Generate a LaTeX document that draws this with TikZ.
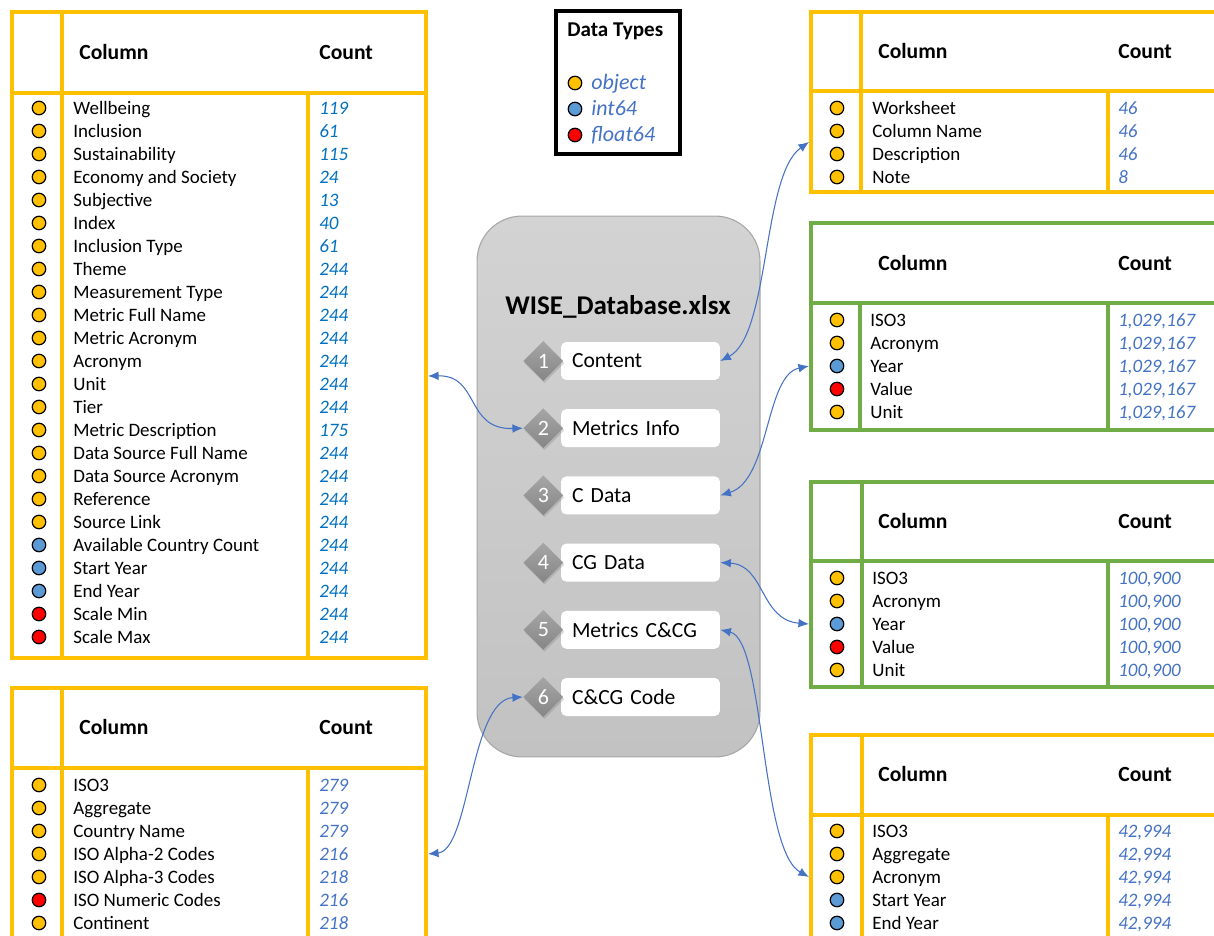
\documentclass[tikz,border=0pt]{standalone}
\usepackage{fontspec}
\setmainfont{Carlito}
\usetikzlibrary{positioning,shapes.geometric,arrows.meta,shadows}

\definecolor{tblgold}{HTML}{FFC000}
\definecolor{tblgreen}{HTML}{70AD47}
\definecolor{tobj}{HTML}{FFC000}
\definecolor{tint}{HTML}{5B9BD5}
\definecolor{tflt}{HTML}{FF0000}
\definecolor{cntblue}{HTML}{4472C4}
\definecolor{cntdeep}{HTML}{0070C0}
\definecolor{wbtop}{HTML}{D3D3D3}
\definecolor{wbbot}{HTML}{C2C2C2}
\definecolor{wbedge}{HTML}{A6A6A6}

\tikzset{
  tblline/.style   = {line width=2.2pt, line join=miter},
  colhead/.style   = {anchor=west, inner sep=0, text height=0.88em, text depth=0.12em, font=\bfseries\fontsize{12.3}{14}\selectfont},
  cellname/.style  = {anchor=west, inner sep=0, text height=0.88em, text depth=0.12em, font=\fontsize{10.8}{13}\selectfont},
  cellcount/.style = {anchor=west, inner sep=0, text height=0.88em, text depth=0.12em, font=\itshape\fontsize{10.8}{13}\selectfont, text=cntblue},
  dot/.style       = {circle, draw=black, line width=0.7pt, minimum size=0.27cm, inner sep=0},
  workbook/.style  = {draw=wbedge, line width=0.6pt, rounded corners=0.9cm, top color=wbtop, bottom color=wbbot, minimum width=5.66cm, minimum height=10.82cm},
  sheet/.style     = {fill=white, rounded corners=3pt, text width=2.74cm, inner xsep=0.22cm, minimum height=0.76cm, align=left, font=\fontsize{12.3}{14}\selectfont},
  sheetnum/.style  = {diamond, minimum width=0.8cm, minimum height=0.8cm, inner sep=0, top color=gray!70, bottom color=gray!95, text=white, font=\fontsize{12.5}{14}\selectfont, drop shadow={opacity=0.3, shadow xshift=0.6pt, shadow yshift=-1.2pt}},
  link/.style      = {<->, >={Latex[length=6pt,width=5pt]}, draw=cntblue, line width=0.6pt}
}

\begin{document}
\begin{tikzpicture}[x=0.02cm, y=-0.02cm]
\useasboundingbox (0,0) rectangle (1214,936);

% legend of data types
\node[draw, line width=2.2pt, minimum width=2.48cm, minimum height=2.86cm] (legend) at (618,82.5) {};
\node[colhead, font=\bfseries\fontsize{12}{14}\selectfont] (legend-title) at (567,30) {Data Types};
\foreach \typ/\col [count=\i from 0] in {object/tobj, int64/tint, float64/tflt} {
  \node[dot, fill=\col] (legend-dot\i) at (575,83+26*\i) {};
  \node[cellcount, font=\itshape\fontsize{12.5}{14}\selectfont] (legend-txt\i) at (591,83+26*\i) {\typ};
}

% the workbook and its sheets
\node[workbook] (wb) at (618.5,486.5) {};
\node[inner sep=0, font=\bfseries\fontsize{15.4}{18}\selectfont] (wb-title) at (618,307) {WISE\_Database.xlsx};
\foreach \lbl [count=\i] in {Content, Metrics Info, C Data, CG Data, Metrics C\&CG, C\&CG Code} {
  \node[sheet] (s\i) at (640.5,361+67.2*\i-67.2) {\lbl};
  \node[sheetnum, left=-0.06cm of s\i] (n\i) {\i};
}

% Metrics Info
\draw[tblline, tblgold] (12,12) rectangle (426,658) (12,93) -- (426,93) (62,12) -- (62,658) (308,93) -- (308,658);
\node[colhead] (mi-hcol) at (79,53) {Column};
\node[colhead] (mi-hcnt) at (319,53) {Count};
\foreach \name/\cnt/\col [count=\i from 0] in {Wellbeing/119/tobj, Inclusion/61/tobj, Sustainability/115/tobj,
    Economy and Society/24/tobj, Subjective/13/tobj, Index/40/tobj, Inclusion Type/61/tobj, Theme/244/tobj,
    Measurement Type/244/tobj, Metric Full Name/244/tobj, Metric Acronym/244/tobj, Acronym/244/tobj,
    Unit/244/tobj, Tier/244/tobj, Metric Description/175/tobj, Data Source Full Name/244/tobj,
    Data Source Acronym/244/tobj, Reference/244/tobj, Source Link/244/tobj, Available Country Count/244/tint,
    Start Year/244/tint, End Year/244/tint, Scale Min/244/tflt, Scale Max/244/tflt} {
  \node[dot, fill=\col] (mi-dot\i) at (39,108+23*\i) {};
  \node[cellname] (mi-name\i) at (73,108+23*\i) {\name};
  \node[cellcount, text=cntdeep] (mi-cnt\i) at (319,108+23*\i) {\cnt};
}
\coordinate (mi-port) at (428,376);

% C&CG Code
\draw[tblline, tblgold] (12,688) rectangle (426,960) (12,768) -- (426,768) (62,688) -- (62,960) (308,768) -- (308,960);
\node[colhead] (cc-hcol) at (79,728) {Column};
\node[colhead] (cc-hcnt) at (319,728) {Count};
\foreach \name/\cnt/\col [count=\i from 0] in {ISO3/279/tobj, Aggregate/279/tobj, Country Name/279/tobj,
    ISO Alpha-2 Codes/216/tobj, ISO Alpha-3 Codes/218/tobj, ISO Numeric Codes/216/tflt, Continent/218/tobj} {
  \node[dot, fill=\col] (cc-dot\i) at (39,785+23*\i) {};
  \node[cellname] (cc-name\i) at (73,785+23*\i) {\name};
  \node[cellcount] (cc-cnt\i) at (319,785+23*\i) {\cnt};
}
\coordinate (cc-port) at (428,854);

% Content
\draw[tblline, tblgold] (811,12) rectangle (1230,192) (811,91) -- (1230,91) (861,12) -- (861,192) (1108,91) -- (1108,192);
\node[colhead] (ct-hcol) at (878,52) {Column};
\node[colhead] (ct-hcnt) at (1118,52) {Count};
\foreach \name/\cnt [count=\i from 0] in {Worksheet/46, Column Name/46, Description/46, Note/8} {
  \node[dot, fill=tobj] (ct-dot\i) at (837,108+23*\i) {};
  \node[cellname] (ct-name\i) at (872,108+23*\i) {\name};
  \node[cellcount] (ct-cnt\i) at (1118,108+23*\i) {\cnt};
}
\coordinate (ct-port) at (809,142);

% C Data
\draw[tblline, tblgreen] (811,223) rectangle (1230,430) (811,303) -- (1230,303) (860,303) -- (860,430) (1108,303) -- (1108,430);
\node[colhead] (cd-hcol) at (878,264) {Column};
\node[colhead] (cd-hcnt) at (1118,264) {Count};
\foreach \name/\col [count=\i from 0] in {ISO3/tobj, Acronym/tobj, Year/tint, Value/tflt, Unit/tobj} {
  \node[dot, fill=\col] (cd-dot\i) at (837,320+23*\i) {};
  \node[cellname] (cd-name\i) at (870,320+23*\i) {\name};
  \node[cellcount] (cd-cnt\i) at (1118,320+23*\i) {1,029,167};
}
\coordinate (cd-port) at (809,366);

% CG Data
\draw[tblline, tblgreen] (811,482) rectangle (1230,687) (811,561) -- (1230,561) (862,482) -- (862,687) (1108,561) -- (1108,687);
\node[colhead] (gd-hcol) at (878,522) {Column};
\node[colhead] (gd-hcnt) at (1118,522) {Count};
\foreach \name/\col [count=\i from 0] in {ISO3/tobj, Acronym/tobj, Year/tint, Value/tflt, Unit/tobj} {
  \node[dot, fill=\col] (gd-dot\i) at (837,578+23*\i) {};
  \node[cellname] (gd-name\i) at (872,578+23*\i) {\name};
  \node[cellcount] (gd-cnt\i) at (1118,578+23*\i) {100,900};
}
\coordinate (gd-port) at (809,624);

% Metrics C&CG
\draw[tblline, tblgold] (811,735) rectangle (1230,960) (811,815) -- (1230,815) (862,735) -- (862,960) (1108,815) -- (1108,960);
\node[colhead] (mc-hcol) at (878,775) {Column};
\node[colhead] (mc-hcnt) at (1118,775) {Count};
\foreach \name/\col [count=\i from 0] in {ISO3/tobj, Aggregate/tobj, Acronym/tobj, Start Year/tint, End Year/tint} {
  \node[dot, fill=\col] (mc-dot\i) at (837,831+23*\i) {};
  \node[cellname] (mc-name\i) at (872,831+23*\i) {\name};
  \node[cellcount] (mc-cnt\i) at (1118,831+23*\i) {42,994};
}
\coordinate (mc-port) at (809,877);

% links between sheets and tables
\draw[link] (s1.east) .. controls (770,335) and (762,175) .. (ct-port);
\draw[link] (mi-port) .. controls (480,375) and (465,430) .. (n2.west);
\draw[link] (s3.east) .. controls (770,480) and (765,375) .. (cd-port);
\draw[link] (s4.east) .. controls (765,565) and (760,620) .. (gd-port);
\draw[link] (s5.east) .. controls (765,640) and (760,850) .. (mc-port);
\draw[link] (cc-port) .. controls (470,850) and (470,700) .. (n6.west);
\end{tikzpicture}
\end{document}
